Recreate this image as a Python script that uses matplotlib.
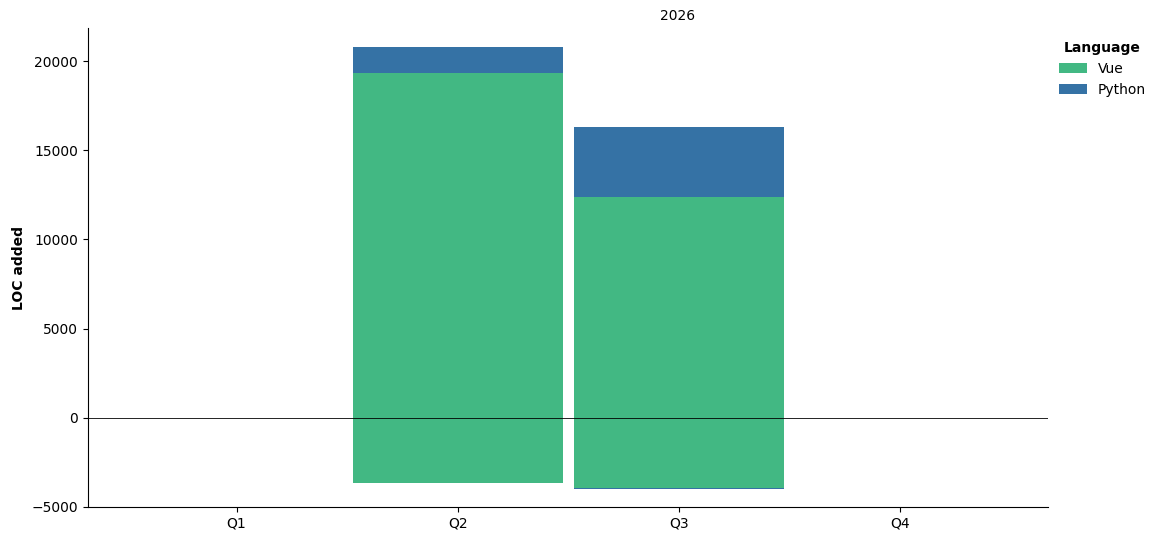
import numpy as np
import matplotlib.pyplot as plt

# dados
trimestres = ["Q1", "Q2", "Q3", "Q4"]
linguagens = ["Vue", "Python"]
cores = {"Vue": "#42b883", "Python": "#3572A5"}

adicionadas = {
    "Vue": [0, 19330, 12380, 0],
    "Python": [0, 1460, 3920, 0],
}
removidas = {
    "Vue": [0, -3640, -3920, 0],
    "Python": [0, -30, -90, 0],
}

fig = plt.figure(figsize=(11.62, 5.42), dpi=100)
ax = fig.add_axes([0.0757, 0.0646, 0.8265, 0.8834])

x = np.arange(len(trimestres))
base_pos = np.zeros(len(trimestres))
base_neg = np.zeros(len(trimestres))
for lang in linguagens:
    pos = np.array(adicionadas[lang], dtype=float)
    neg = np.array(removidas[lang], dtype=float)
    ax.bar(x, pos, bottom=base_pos, width=0.95, color=cores[lang], label=lang)
    ax.bar(x, neg, bottom=base_neg, width=0.95, color=cores[lang])
    base_pos += pos
    base_neg += neg

ax.axhline(0, color="black", linewidth=0.6)
ax.set_xticks(x)
ax.set_xticklabels(trimestres)
ax.set_ylim(-5000, 21850)
ax.set_yticks([-5000, 0, 5000, 10000, 15000, 20000])
ax.set_ylabel("LOC added", fontweight="bold")
ax.spines["top"].set_visible(False)
ax.spines["right"].set_visible(False)

# título desalinhado como no original
fig.text(678 / 1162, 1 - 16 / 542, "2026", ha="center", va="center", fontsize=10)

leg = ax.legend(title="Language", loc="upper left", bbox_to_anchor=(0.998, 1.0),
                frameon=False)
leg.get_title().set_fontweight("bold")

fig.savefig("out.png", dpi=100)
